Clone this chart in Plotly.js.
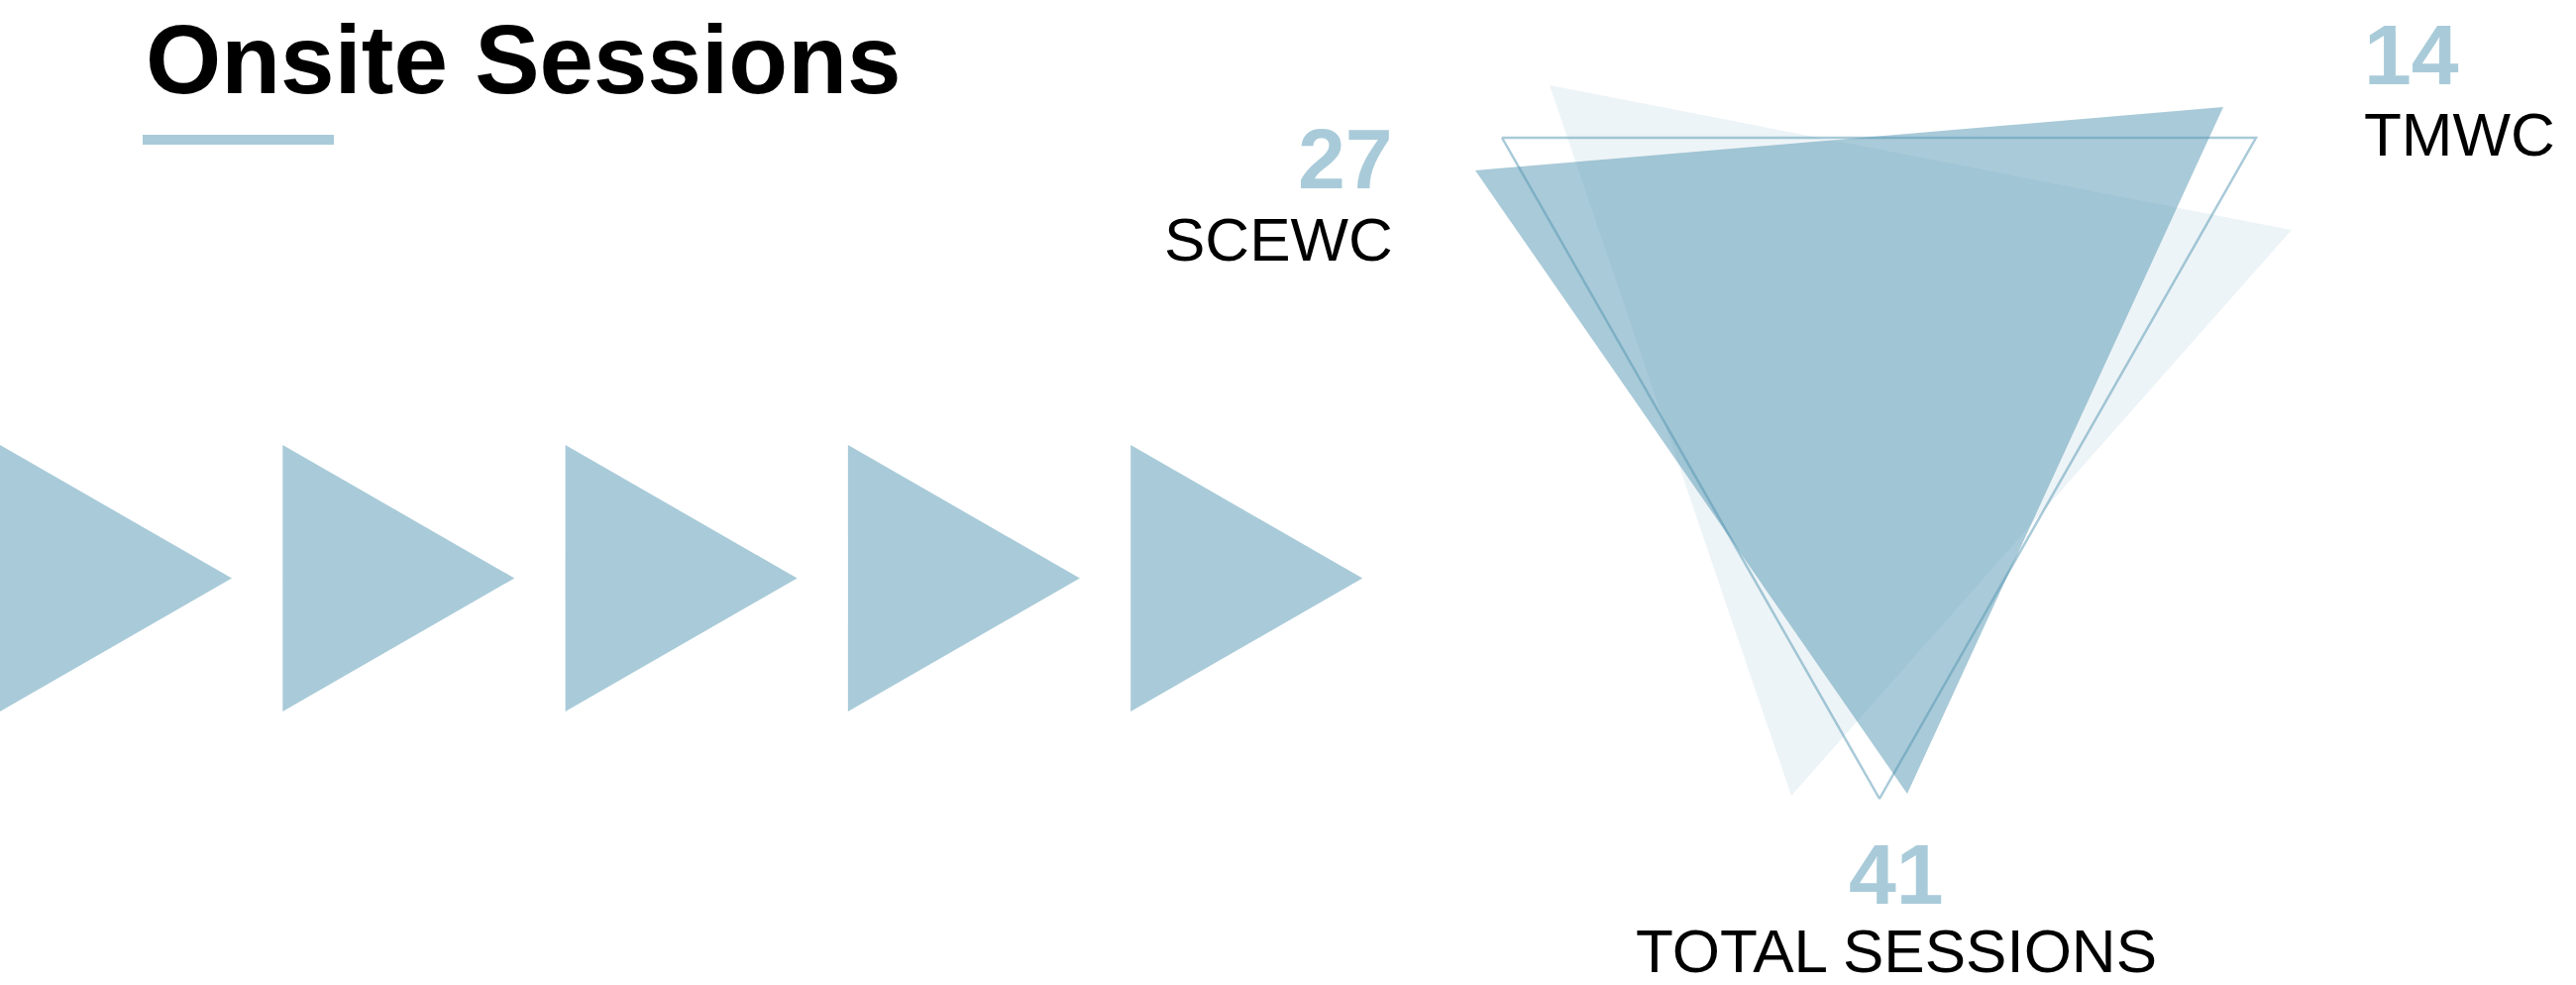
<!DOCTYPE html>
<html>
<head>
<meta charset="utf-8">
<script src="https://cdn.plot.ly/plotly-3.0.1.min.js"></script>
<style>html,body{margin:0;padding:0;background:#fff;}#chart{width:2600px;height:994px;}</style>
</head>
<body>
<div id="chart"></div>
<script>
// ---- data ----
const chartTitle = 'Onsite Sessions';
const centreLabels = ['SCEWC', 'TMWC', 'TOTAL SESSIONS'];
const sessionCounts = [27, 14, 41];
const arrowSteps = [1, 2, 3, 4, 5];

// ---- styles / layout geometry (pixel space) ----
const W = 2600, H = 994;
const lightBlue = '#a9cbd9';
const baseRGB = '83,149,177';
const numFont = {family: 'Liberation Sans', size: 86, color: lightBlue, weight: 700};
const lblFont = {family: 'Liberation Sans', size: 62, color: '#000000', weight: 400};

const arrowGeom = {x0: 0, width: 234, step: 285.3, top: 449, bottom: 718};
const triA = {x: [1489, 2244, 1925, 1489], y: [172, 108, 801, 172]};
const triB = {x: [1564, 2313, 1808, 1564], y: [86, 232, 803, 86]};
const triC = {x: [1516, 2277, 1897, 1516], y: [139, 139, 806, 139]};

const labelPos = [
  {x: 1407, num: 160, lbl: 241, anchor: 'right'},
  {x: 2385, num: 55, lbl: 135, anchor: 'left'},
  {x: 1914, num: 882, lbl: 959, anchor: 'center'}
];

const traces = [];
arrowSteps.forEach((s, i) => {
  const l = arrowGeom.x0 + i * arrowGeom.step;
  const r = l + arrowGeom.width;
  const m = (arrowGeom.top + arrowGeom.bottom) / 2;
  traces.push({
    type: 'scatter', mode: 'lines', x: [l, r, l, l], y: [arrowGeom.top, m, arrowGeom.bottom, arrowGeom.top],
    fill: 'toself', fillcolor: lightBlue, line: {width: 0, color: lightBlue}, hoverinfo: 'skip', showlegend: false
  });
});
traces.push({type: 'scatter', mode: 'lines', x: triB.x, y: triB.y, fill: 'toself',
  fillcolor: 'rgba(' + baseRGB + ',0.1)', line: {width: 0}, hoverinfo: 'skip', showlegend: false});
traces.push({type: 'scatter', mode: 'lines', x: triC.x, y: triC.y,
  line: {width: 2.5, color: 'rgba(' + baseRGB + ',0.5)'}, hoverinfo: 'skip', showlegend: false});
traces.push({type: 'scatter', mode: 'lines', x: triA.x, y: triA.y, fill: 'toself',
  fillcolor: 'rgba(' + baseRGB + ',0.5)', line: {width: 0}, hoverinfo: 'skip', showlegend: false});

const annotations = [];
centreLabels.forEach((lab, i) => {
  const p = labelPos[i];
  annotations.push({x: p.x, y: p.num, xref: 'x', yref: 'y', text: String(sessionCounts[i]), showarrow: false,
    xanchor: p.anchor, yanchor: 'middle', borderpad: 0, font: numFont});
  annotations.push({x: p.x, y: p.lbl, xref: 'x', yref: 'y', text: lab, showarrow: false,
    xanchor: p.anchor, yanchor: 'middle', borderpad: 0, font: lblFont});
});

const layout = {
  width: W, height: H,
  margin: {l: 0, r: 0, t: 0, b: 0, pad: 0},
  paper_bgcolor: '#ffffff', plot_bgcolor: '#ffffff',
  title: {text: chartTitle, x: 147 / W, xanchor: 'left', xref: 'paper', y: 1 - 60 / H, yref: 'container', yanchor: 'middle',
    font: {family: 'Liberation Sans', size: 98, color: '#000000', weight: 700}},
  xaxis: {range: [0, W], visible: false, fixedrange: true},
  yaxis: {range: [H, 0], visible: false, fixedrange: true},
  shapes: [{type: 'rect', xref: 'x', yref: 'y', x0: 144, x1: 337, y0: 136, y1: 146, fillcolor: lightBlue, line: {width: 0}}],
  annotations: annotations,
  showlegend: false
};

Plotly.newPlot('chart', traces, layout, {staticPlot: true, displayModeBar: false});
</script>
</body>
</html>
